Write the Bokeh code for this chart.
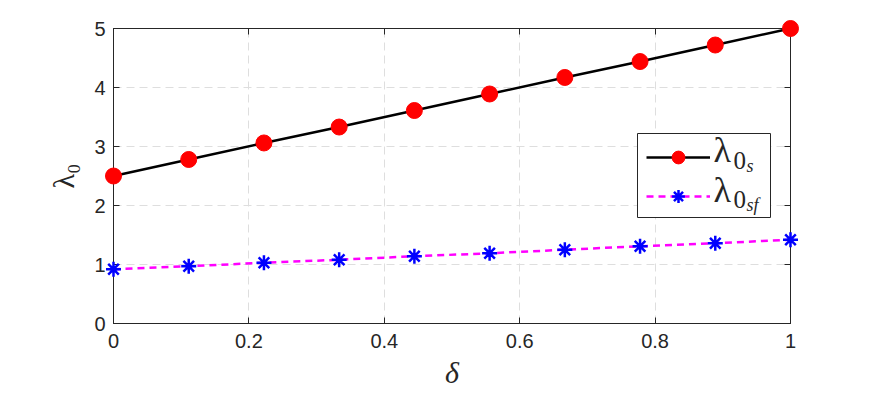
from bokeh.plotting import figure
from bokeh.models import (ColumnDataSource, Legend, LegendItem, LinearAxis, Label,
                          FixedTicker, Range1d, BoxAnnotation)
from bokeh.embed import file_html
from bokeh.resources import INLINE

# ---- data ----
delta = [0, 1/9, 2/9, 3/9, 4/9, 5/9, 6/9, 7/9, 8/9, 1]
lambda_0s = [2.50, 2.78, 3.06, 3.33, 3.61, 3.89, 4.17, 4.44, 4.72, 5.00]
lambda_0sf = [0.92, 0.97, 1.03, 1.08, 1.14, 1.19, 1.25, 1.31, 1.36, 1.42]
x_ticks = [0, 0.2, 0.4, 0.6, 0.8, 1]
y_ticks = [0, 1, 2, 3, 4, 5]

AX = "#262626"
GRID = "#dedede"
TICKFONT = "Liberation Sans"
SERIF = "Liberation Serif"

p = figure(width=872, height=396, output_backend="svg", toolbar_location=None,
           x_range=Range1d(0, 1), y_range=Range1d(0, 5),
           min_border_left=113, min_border_right=82, min_border_top=28,
           min_border_bottom=73)
p.background_fill_color = "white"
p.border_fill_color = "white"
p.outline_line_color = AX
p.outline_line_width = 1

# main axes
p.xaxis.ticker = FixedTicker(ticks=x_ticks)
p.yaxis.ticker = FixedTicker(ticks=y_ticks)
for ax in p.xaxis + p.yaxis:
    ax.axis_line_color = AX
    ax.major_tick_line_color = AX
    ax.major_tick_in = 6
    ax.major_tick_out = 0
    ax.minor_tick_line_color = None
    ax.major_label_text_font = TICKFONT
    ax.major_label_text_font_size = "20px"
    ax.major_label_text_color = AX
    ax.axis_label_text_font = SERIF
    ax.axis_label_text_font_size = "30px"
    ax.axis_label_text_font_style = "normal"
    ax.axis_label_text_color = AX
p.xaxis.major_label_standoff = 10
p.yaxis.major_label_standoff = 8
p.xaxis.axis_label = "δ"
p.xaxis.axis_label_text_font_style = "italic"
p.yaxis.axis_label = "λ₀"
p.xaxis.axis_label_standoff = 5
p.yaxis.axis_label_standoff = 11

# top and right axes (ticks only)
top = LinearAxis(ticker=FixedTicker(ticks=x_ticks))
right = LinearAxis(ticker=FixedTicker(ticks=y_ticks))
for ax in (top, right):
    ax.axis_line_color = AX
    ax.major_tick_line_color = AX
    ax.major_tick_in = 6
    ax.major_tick_out = 0
    ax.minor_tick_line_color = None
    ax.major_label_text_font_size = "0px"
    ax.major_label_text_alpha = 0
    ax.major_label_standoff = 0
p.add_layout(top, "above")
p.add_layout(right, "right")

# grid
for g in (p.xgrid[0], p.ygrid[0]):
    g.grid_line_color = GRID
    g.grid_line_dash = "8 5"
    g.grid_line_width = 1
p.xgrid.ticker = FixedTicker(ticks=x_ticks)
p.ygrid.ticker = FixedTicker(ticks=y_ticks)

src = ColumnDataSource(dict(x=delta, a=lambda_0s, b=lambda_0sf))

l1 = p.line("x", "a", source=src, line_color="black", line_width=2.5, level="overlay")
m1 = p.scatter("x", "a", source=src, marker="circle", size=16,
               fill_color="red", line_color="red", level="overlay")
l2 = p.line("x", "b", source=src, line_color="magenta", line_width=2.5,
            line_dash="7 5", level="overlay")
m2 = p.scatter("x", "b", source=src, marker="asterisk", size=15,
               line_color="blue", line_width=2.5, level="overlay")

# legend frame (white box with border), drawn as an annotation behind the legend items
box = BoxAnnotation(left=524, right=657, bottom=106, top=190,
                    left_units="screen", right_units="screen",
                    bottom_units="screen", top_units="screen",
                    fill_color="white", fill_alpha=1, line_color=AX, line_width=1,
                    line_alpha=1, level="annotation", propagate_hover=False)
p.add_layout(box)

legend = Legend(items=[LegendItem(label=" ", renderers=[l1, m1]),
                       LegendItem(label=" ", renderers=[l2, m2])],
                location=(524, 102))
legend.border_line_color = AX
legend.border_line_alpha = 0
legend.background_fill_alpha = 0
legend.glyph_width = 64
legend.glyph_height = 32
legend.spacing = 7
legend.padding = 9
legend.margin = 0
legend.label_standoff = 3
legend.label_width = 40
legend.label_height = 10
legend.label_text_font_size = "10px"
p.add_layout(legend, "center")

# legend label texts λ_{0_s}, λ_{0_{sf}} (screen units relative to the plot frame)
legend_texts = [("λ", 600, 174, "36px", "normal"),
                ("0", 620, 163, "25px", "normal"),
                ("s", 633, 158, "18px", "italic"),
                ("λ", 600, 134, "36px", "normal"),
                ("0", 620, 124, "25px", "normal"),
                ("sf", 633, 119, "18px", "italic")]
for txt, sx, sy, fs, st in legend_texts:
    p.add_layout(Label(x=sx, y=sy, x_units="screen", y_units="screen", text=txt,
                       text_font=SERIF, text_font_size=fs, text_font_style=st,
                       text_color=AX, text_baseline="alphabetic", level="overlay"))

open("out.html", "w").write(file_html(p, INLINE))
